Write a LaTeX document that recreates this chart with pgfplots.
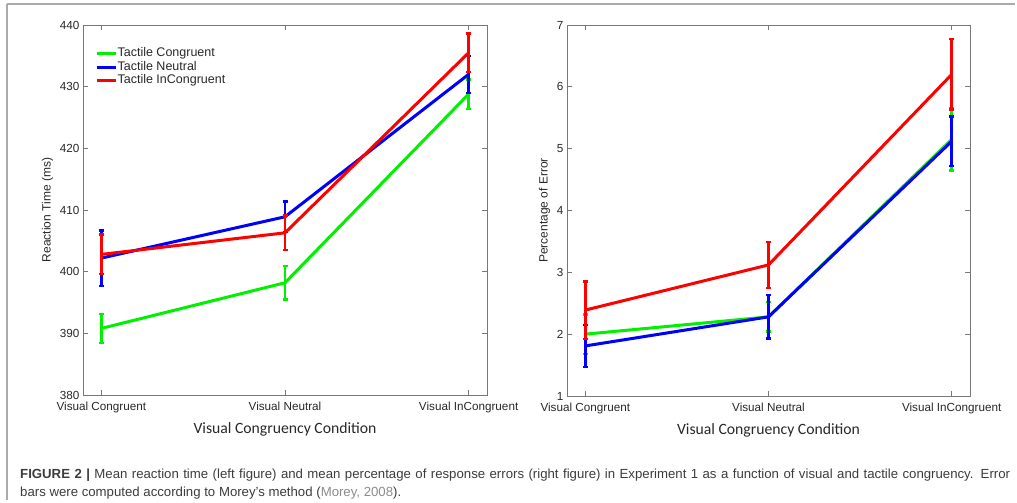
\documentclass[border=0pt]{standalone}
\usepackage{fontspec}
\setmainfont{Liberation Sans}
\newfontfamily\calib{Carlito}
\usepackage{pgfplots}
\pgfplotsset{compat=1.18}
\definecolor{mgreen}{RGB}{0,240,0}
\definecolor{mblue}{RGB}{0,0,255}
\definecolor{mred}{RGB}{255,0,0}
\definecolor{axgray}{RGB}{120,120,120}
\definecolor{tickc}{RGB}{40,40,40}
\definecolor{capc}{RGB}{60,60,60}
\definecolor{linkc}{RGB}{140,140,140}
\definecolor{framec}{RGB}{170,170,170}

\pgfplotsset{
  mystyle/.style={
    scale only axis,
    xmin=-0.1, xmax=2.1,
    xtick={0,1,2},
    xticklabels={Visual Congruent, Visual Neutral, Visual InCongruent},
    tick align=inside,
    major tick length=5pt,
    axis line style={draw=axgray, line width=0.8pt},
    every tick/.style={draw=axgray, line width=0.8pt},
    tick label style={font=\fontsize{11.7}{13}\selectfont, text=tickc},
    xticklabel style={yshift=-3pt},
    xlabel style={font=\calib\fontsize{15.7}{18}\selectfont, text=tickc, yshift=-3pt},
    ylabel style={font=\fontsize{12}{14}\selectfont, text=tickc},
    /pgf/number format/assume math mode=true,
    xlabel={Visual Congruency Condition},
  },
  ser/.style={#1, line width=3pt, line join=round, mark=none,
    error bars/.cd, y dir=both, y explicit,
    error bar style={#1, line width=2.5pt},
    error mark options={#1, line width=2.5pt, mark size=2.5pt, rotate=90}},
}

\begin{document}
\begin{tikzpicture}[x=1pt,y=1pt]
\useasboundingbox (0,0) rectangle (1017,-503);
\draw[framec, line width=1.5pt] (7,-4) -- (1015,-4);
\draw[framec, line width=1.2pt] (7,-4) -- (7,-500);

\begin{axis}[mystyle,
  at={(83pt,-395pt)}, anchor=south west,
  width=404pt, height=370pt,
  ymin=380, ymax=440, ytick={380,390,...,440},
  ylabel={Reaction Time (ms)},
  legend style={at={(0.022,0.947)}, anchor=north west, draw=none, fill=none,
    font=\fontsize{12.5}{14}\selectfont, text=tickc,
    nodes={inner sep=0.5pt, text height=9.5pt, text depth=3pt},
    legend cell align=left},
  legend image code/.code={\draw[line width=3pt] (0pt,0pt) -- (19pt,0pt);},
]
\addplot[ser=mgreen] coordinates {(0,390.8) +- (0,2.35) (1,398.2) +- (0,2.75) (2,428.8) +- (0,2.4)};
\addlegendentry{Tactile Congruent}
\addplot[ser=mblue] coordinates {(0,402.2) +- (0,4.5) (1,408.9) +- (0,2.5) (2,432.0) +- (0,3.0)};
\addlegendentry{Tactile Neutral}
\addplot[ser=mred] coordinates {(0,402.8) +- (0,3.2) (1,406.3) +- (0,2.8) (2,435.5) +- (0,3.15)};
\addlegendentry{Tactile InCongruent}
\end{axis}

\begin{axis}[mystyle,
  at={(567pt,-396pt)}, anchor=south west,
  width=403pt, height=371pt,
  ymin=1, ymax=7, ytick={1,2,...,7},
  ylabel={Percentage of Error},
]
\addplot[ser=mgreen] coordinates {(0,2.0) +- (0,0.32) (1,2.28) +- (0,0.24) (2,5.15) +- (0,0.5)};
\addplot[ser=mblue] coordinates {(0,1.81) +- (0,0.34) (1,2.28) +- (0,0.35) (2,5.12) +- (0,0.4)};
\addplot[ser=mred] coordinates {(0,2.39) +- (0,0.465) (1,3.12) +- (0,0.37) (2,6.2) +- (0,0.57)};
\end{axis}

\node[anchor=base west, inner sep=0pt, font=\fontsize{13.2}{18}\selectfont, text=capc] at (20,-478)
  {\hbox to 990pt{{\bfseries FIGURE 2 |} Mean reaction time (left figure) and mean percentage of response errors (right figure) in Experiment 1 as a function of visual and tactile congruency. Error}};
\node[anchor=base west, inner sep=0pt, font=\fontsize{13.2}{18}\selectfont, text=capc] at (20,-496)
  {bars were computed according to Morey's method ({\color{linkc}Morey, 2008}).};
\end{tikzpicture}
\end{document}
